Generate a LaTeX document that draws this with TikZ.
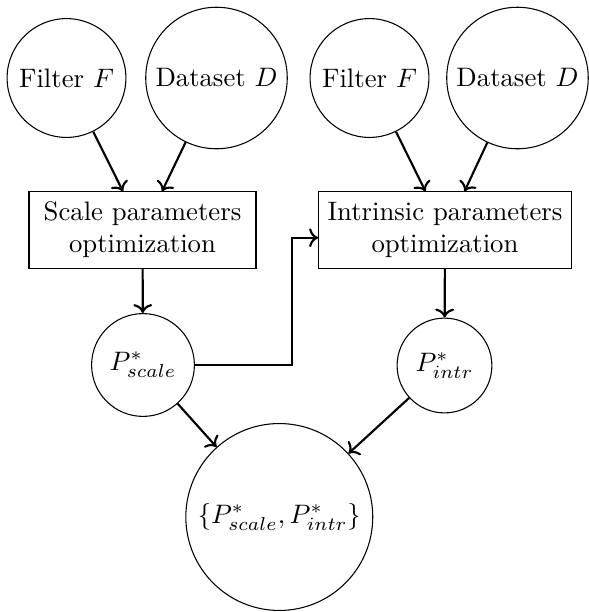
\documentclass[tikz,border=0pt]{standalone}
\usepackage{tikz}
\usetikzlibrary{arrows.meta, positioning, calc}

\tikzset{
    var/.style={draw, circle, inner sep=1pt},
    optbox/.style={draw, rectangle, align=center, minimum height=28.5pt},
    flow/.style={->, thick}
}

\begin{document}
\begin{tikzpicture}[x=0.3745pt, y=-0.3745pt]
        \useasboundingbox (0,0) rectangle (589,612);

        % Entradas
        \node[var, minimum size=44.5pt] (f1) at (66.5, 78) {Filter $F$};
        \node[var, minimum size=53pt] (d1) at (216.5, 78) {Dataset $D$};
        \node[var, minimum size=44.5pt] (f2) at (369.5, 78) {Filter $F$};
        \node[var, minimum size=53pt] (d2) at (517.5, 78) {Dataset $D$};

        % Optimizaciones
        \node[optbox, minimum width=85pt] (sbox) at (142.5, 230) {Scale parameters\\ optimization};
        \node[optbox, minimum width=94.4pt] (ibox) at (445, 230) {Intrinsic parameters\\ optimization};

        % Parametros optimos
        \node[var, minimum size=38.5pt] (ps) at (143, 365) {$P^*_{scale}$};
        \node[var, minimum size=35.5pt] (pi) at (444.5, 365.5) {$P^*_{intr}$};
        \node[var, minimum size=70pt] (res) at (279.3, 517) {$\{P^*_{scale}, P^*_{intr}\}$};

        % Flechas
        \draw[flow] (f1) -- ([xshift=-7.3pt]sbox.north);
        \draw[flow] (d1) -- ([xshift=7.3pt]sbox.north);
        \draw[flow] (f2) -- ([xshift=-7.3pt]ibox.north);
        \draw[flow] (d2) -- ([xshift=7.3pt]ibox.north);
        \draw[flow] (sbox) -- (ps);
        \draw[flow] (ibox) -- (pi);
        \draw[flow] (ps.east) -| ([xshift=-9.7pt, yshift=-2.9pt]ibox.west) -- ([yshift=-2.9pt]ibox.west);
        \draw[flow] (ps) -- (res);
        \draw[flow] (pi) -- (res);
    \end{tikzpicture}
\end{document}
